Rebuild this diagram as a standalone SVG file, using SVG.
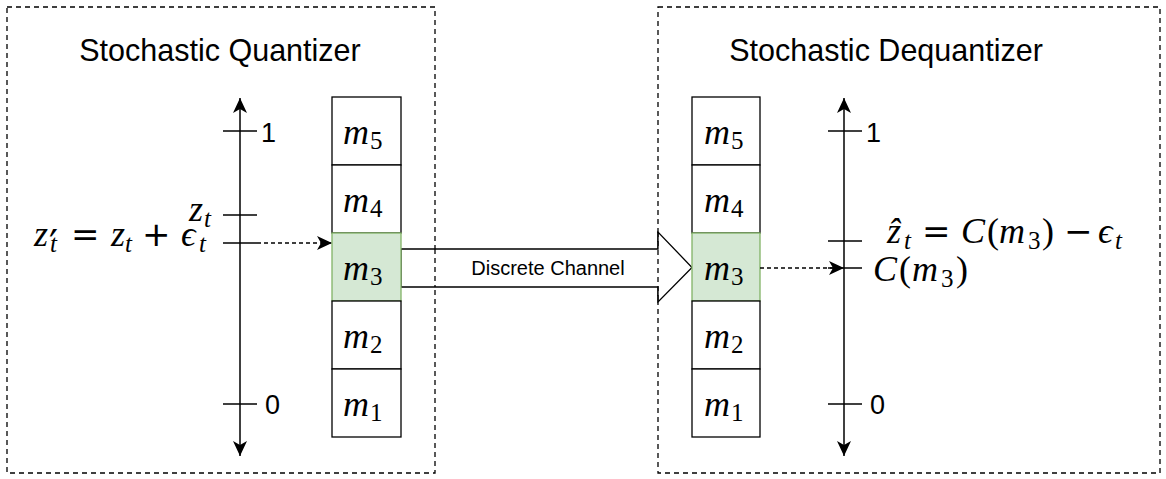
<svg xmlns="http://www.w3.org/2000/svg" width="1166" height="479" viewBox="0 0 1166 479">
<defs>
<style>
.container{fill:none;stroke:#000;stroke-width:1.3;stroke-dasharray:5 4}
.cell{fill:#fff;stroke:#000;stroke-width:1.3}
.sel{fill:#d5e8d4;stroke:#82b366;stroke-width:1.3}
.axis{stroke:#000;stroke-width:1.5;fill:none}
.tick{stroke:#000;stroke-width:1.5}
.dash{stroke:#000;stroke-width:1.3;stroke-dasharray:4 3;fill:none}
.title{font-family:"Liberation Sans",Arial,Helvetica,sans-serif;font-size:30.5px;fill:#000}
.lbl{font-family:"Liberation Sans",Arial,Helvetica,sans-serif;font-size:27px;fill:#000}
.chan{font-family:"Liberation Sans",Arial,Helvetica,sans-serif;font-size:20px;fill:#000}
.math{font-family:"Liberation Serif","DejaVu Serif",serif;font-size:36px;fill:#000}
.mi{font-style:italic}
.op{font-family:"DejaVu Sans",sans-serif;font-size:34px;font-style:normal}
.prime{font-family:"DejaVu Sans",sans-serif;font-size:40px;font-style:normal}
.sub{font-size:25px}
.m{font-family:"Liberation Serif","DejaVu Serif",serif;font-size:36px;font-style:italic;fill:#000}
.msub{font-size:25px;font-style:normal}
</style>
<marker id="arr" viewBox="0 0 15 14" refX="15" refY="7" markerWidth="15" markerHeight="14" markerUnits="userSpaceOnUse" orient="auto-start-reverse">
<path d="M0,0 L15,7 L0,14 L4,7 z" fill="#000" stroke="none"/>
</marker>
</defs>

<g id="quantizer">
<rect class="container" x="7" y="7" width="428" height="466"/>
<text class="title" x="220" y="61" text-anchor="middle">Stochastic Quantizer</text>
</g>

<g id="dequantizer">
<rect class="container" x="658" y="7" width="502" height="466"/>
<text class="title" x="886" y="61" text-anchor="middle">Stochastic Dequantizer</text>
</g>

<g id="channel">
<path d="M401,249 L658,249 L658,232 L692,267.5 L658,302 L658,287 L401,287 Z" fill="#fff" stroke="#000" stroke-width="1.3" stroke-linejoin="miter"/>
<text class="chan" x="548" y="275" text-anchor="middle">Discrete Channel</text>
</g>

<g id="container-borders-over">
<line class="container" x1="435" y1="249" x2="435" y2="287"/>
<line class="container" x1="658" y1="232" x2="658" y2="302"/>
</g>

<g id="left-axis">
<line class="axis" x1="240" y1="456" x2="240" y2="98" marker-start="url(#arr)" marker-end="url(#arr)"/>
<line class="tick" x1="223" y1="131" x2="257" y2="131"/>
<line class="tick" x1="223" y1="215" x2="257" y2="215"/>
<line class="tick" x1="223" y1="243" x2="257" y2="243"/>
<line class="tick" x1="223" y1="404" x2="257" y2="404"/>
<text class="lbl" x="261" y="142">1</text>
<text class="lbl" x="265" y="414">0</text>
<text class="math"><tspan class="mi" x="189" y="221">z</tspan><tspan class="mi sub" x="204" y="227">t</tspan></text>
<text class="math"><tspan class="mi" x="34" y="246">z</tspan><tspan class="mi sub" x="50" y="252">t</tspan><tspan class="op" x="71" y="246">=</tspan><tspan class="mi" x="111" y="246">z</tspan><tspan class="mi sub" x="125" y="252">t</tspan><tspan class="op" x="142" y="246">+</tspan><tspan class="mi" x="181" y="246">ϵ</tspan><tspan class="mi sub" x="199" y="252">t</tspan></text>
<text class="prime" x="49" y="259">′</text>
</g>

<g id="left-levels">
<rect class="cell" x="332" y="97" width="69" height="68"/>
<rect class="cell" x="332" y="165" width="69" height="68"/>
<rect class="sel" x="332" y="233" width="69" height="68"/>
<rect class="cell" x="332" y="301" width="69" height="68"/>
<rect class="cell" x="332" y="369" width="69" height="68"/>
<text class="m"><tspan x="343" y="144">m</tspan><tspan class="msub" x="370" y="149">5</tspan></text>
<text class="m"><tspan x="343" y="212">m</tspan><tspan class="msub" x="370" y="217">4</tspan></text>
<text class="m"><tspan x="343" y="280">m</tspan><tspan class="msub" x="370" y="285">3</tspan></text>
<text class="m"><tspan x="343" y="348">m</tspan><tspan class="msub" x="370" y="353">2</tspan></text>
<text class="m"><tspan x="343" y="416">m</tspan><tspan class="msub" x="370" y="421">1</tspan></text>
</g>

<g id="right-levels">
<rect class="cell" x="692" y="97" width="68" height="68"/>
<rect class="cell" x="692" y="165" width="68" height="68"/>
<rect class="sel" x="692" y="233" width="68" height="68"/>
<rect class="cell" x="692" y="301" width="68" height="68"/>
<rect class="cell" x="692" y="369" width="68" height="68"/>
<text class="m"><tspan x="704" y="144">m</tspan><tspan class="msub" x="731" y="149">5</tspan></text>
<text class="m"><tspan x="704" y="212">m</tspan><tspan class="msub" x="731" y="217">4</tspan></text>
<text class="m"><tspan x="704" y="280">m</tspan><tspan class="msub" x="731" y="285">3</tspan></text>
<text class="m"><tspan x="704" y="348">m</tspan><tspan class="msub" x="731" y="353">2</tspan></text>
<text class="m"><tspan x="704" y="416">m</tspan><tspan class="msub" x="731" y="421">1</tspan></text>
</g>

<g id="right-axis">
<line class="axis" x1="844" y1="456" x2="844" y2="98" marker-start="url(#arr)" marker-end="url(#arr)"/>
<line class="tick" x1="828" y1="131" x2="862" y2="131"/>
<line class="tick" x1="828" y1="241" x2="862" y2="241"/>
<line class="tick" x1="828" y1="268" x2="862" y2="268"/>
<line class="tick" x1="828" y1="404" x2="862" y2="404"/>
<text class="lbl" x="866" y="142">1</text>
<text class="lbl" x="870" y="414">0</text>
<text class="math"><tspan class="mi" x="887" y="243">z&#x302;</tspan><tspan class="mi sub" x="904" y="249">t</tspan><tspan class="op" x="922" y="243">=</tspan><tspan class="mi" x="961" y="243">C</tspan><tspan x="987" y="243">(</tspan><tspan class="mi" x="999" y="243">m</tspan><tspan class="sub" x="1028" y="249">3</tspan><tspan x="1042" y="243">)</tspan><tspan class="op" x="1064" y="243">−</tspan><tspan class="mi" x="1098" y="243">ϵ</tspan><tspan class="mi sub" x="1115" y="249">t</tspan></text>
<text class="math"><tspan class="mi" x="873" y="281">C</tspan><tspan x="899" y="281">(</tspan><tspan class="mi" x="912" y="281">m</tspan><tspan class="sub" x="941" y="287">3</tspan><tspan x="956" y="281">)</tspan></text>
</g>

<g id="connectors">
<line class="dash" x1="257" y1="243" x2="332" y2="243" marker-end="url(#arr)"/>
<line class="dash" x1="760" y1="268" x2="844" y2="268" marker-end="url(#arr)"/>
</g>
</svg>
